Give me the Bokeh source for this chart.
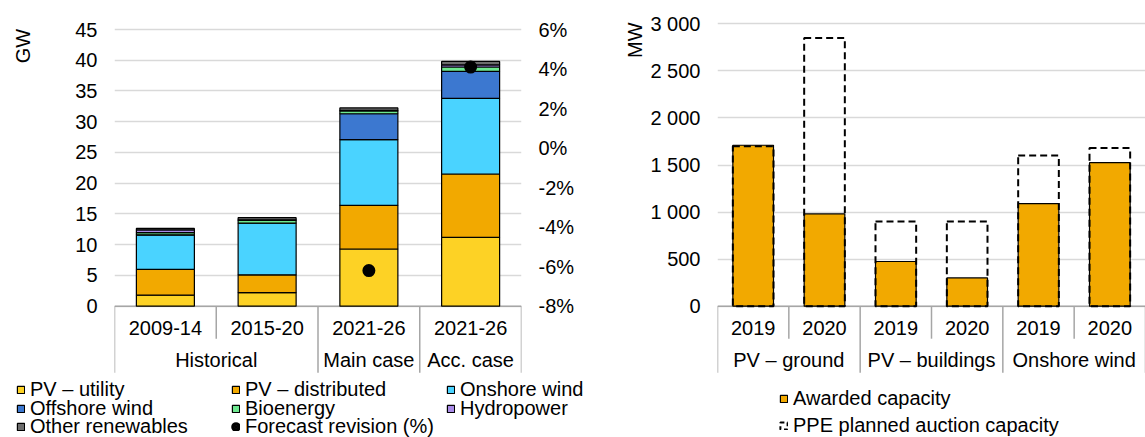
import numpy as np
from bokeh.plotting import figure
from bokeh.models import (FactorRange, Range1d, LinearAxis, FixedTicker, ColumnDataSource,
                          Legend, LegendItem, PrintfTickFormatter)
from bokeh.layouts import row, column
from bokeh.embed import file_html
from bokeh.resources import INLINE
from bokeh.core.properties import value

# ---------------- data: left chart ----------------
periods = ["2009-14", "2015-20", "2021-26", "2021-26"]
period_groups = ["Historical", "Historical", "Main case", "Acc. case"]
pv_utility = [1.8, 2.2, 9.3, 11.2]
pv_distributed = [4.2, 2.9, 7.1, 10.3]
onshore_wind = [5.6, 8.4, 10.7, 12.3]
offshore_wind = [0.0, 0.0, 4.2, 4.4]
bioenergy = [0.35, 0.45, 0.45, 0.7]
hydropower = [0.45, 0.1, 0.1, 0.35]
other_renewables = [0.25, 0.35, 0.4, 0.55]
forecast_revision = [np.nan, np.nan, -6.2, 4.1]
series_names = ["PV – utility", "PV – distributed", "Onshore wind", "Offshore wind",
                "Bioenergy", "Hydropower", "Other renewables"]
revision_name = "Forecast revision (%)"
gw_ticks = [0, 5, 10, 15, 20, 25, 30, 35, 40, 45]
pct_ticks = [-8, -6, -4, -2, 0, 2, 4, 6]
left_unit = "GW"

# ---------------- data: right chart ----------------
years = ["2019", "2020", "2019", "2020", "2019", "2020"]
tech_groups = ["PV – ground", "PV – ground", "PV – buildings", "PV – buildings",
               "Onshore wind", "Onshore wind"]
awarded = [1710, 980, 475, 300, 1090, 1525]
planned = [1700, 2850, 900, 900, 1600, 1680]
mw_ticks = [0, 500, 1000, 1500, 2000, 2500, 3000]
mw_tick_labels = ["0", "500", "1 000", "1 500", "2 000", "2 500", "3 000"]
awarded_name = "Awarded capacity"
planned_name = "PPE planned auction capacity"
right_unit = "MW"

# ---------------- styles / layout (canvas pixels) ----------------
FONT = "Liberation Sans"
FS = "20px"
colors = ["#FDD225", "#F2A900", "#4AD3FF", "#3C78D0", "#6EE890", "#A98BE8", "#6D6D6D"]
AWARD_COLOR = "#F2A900"
GRID = "#d9d9d9"
AXIS = "#a6a6a6"

TOTAL_W, TOTAL_H = 1145, 437
TOP = 14                 # common frame top of the chart row
ZERO_PX = 305.7          # canvas y of the value 0
CHART_H = 375            # chart frames hold the category labels
LEG_H = TOTAL_H - CHART_H
GW_W = 40                # strip holding the "GW" unit label
L_FRAME_L, L_FRAME_R = 114, 521
MID_X = 617              # left / right split
MW_W = 30                # strip holding the "MW" unit label
R_FRAME_L = 717


def cat_axis(p, groups, items, units_per_px):
    n = len(items)
    inner = [i for i in range(1, n) if groups[i] == groups[i - 1]]
    outer = [0] + [i for i in range(1, n) if groups[i] != groups[i - 1]] + [n]
    p.segment(x0=[0], y0=[0], x1=[n], y1=[0], line_color=AXIS, line_width=1.5)
    p.segment(x0=inner, y0=[0] * len(inner), x1=inner,
              y1=[-32.5 * units_per_px] * len(inner), line_color=AXIS, line_width=1.5)
    p.segment(x0=outer, y0=[0] * len(outer), x1=outer,
              y1=[-66.5 * units_per_px] * len(outer), line_color=AXIS, line_width=1.5)
    xs = list(zip(groups, items))
    p.text(x=xs, y=[0] * n, text=items, y_offset=22, text_align="center",
           text_baseline="middle", text_font=value(FONT), text_font_size=value(FS),
           text_color="black")
    ug = list(dict.fromkeys(groups))
    p.text(x=ug, y=[0] * len(ug), text=ug, y_offset=54, text_align="center",
           text_baseline="middle", text_font=value(FONT), text_font_size=value(FS),
           text_color="black")


def style_axis(ax, standoff=17):
    ax.axis_line_color = None
    ax.major_tick_line_color = None
    ax.minor_tick_line_color = None
    ax.major_tick_out = 0
    ax.major_tick_in = 0
    ax.major_label_standoff = standoff
    ax.major_label_text_font = FONT
    ax.major_label_text_font_size = FS
    ax.major_label_text_color = "black"


def blank(width, height, x0, top, bottom, min_top=0):
    # axis-less figure whose data coordinates are canvas pixels
    f = figure(width=width, height=height, x_range=Range1d(x0, x0 + width),
               y_range=Range1d(bottom, top + min_top), output_backend="svg",
               toolbar_location=None, x_axis_location=None, y_axis_location=None,
               min_border=0, min_border_top=min_top, outline_line_color=None)
    f.grid.visible = False
    return f


def unit_strip(width, x0, text, cx, cy):
    s = blank(width, CHART_H, x0, 0, CHART_H, min_top=TOP)
    s.text(x=[cx], y=[cy], text=[text], angle=np.pi / 2, text_align="center",
           text_baseline="middle", text_font=value(FONT), text_font_size=value(FS),
           text_color="black")
    return s


def add_legend(fig, entries, x, y_center, label_width=None):
    items = [LegendItem(label=lab, renderers=[r]) for lab, r in entries]
    kw = dict(items=items, orientation="horizontal", glyph_width=9, glyph_height=9,
              label_standoff=5, spacing=0, padding=0, margin=0, border_line_color=None,
              background_fill_alpha=0, label_text_font=FONT, label_text_font_size=FS,
              label_text_color="black",
              location=(x - fig.x_range.start, TOTAL_H - (y_center + 13)))
    if label_width:
        kw["label_width"] = label_width
    fig.add_layout(Legend(**kw))


# legend swatches: renderers with a single undrawable (NaN) point
NO_POINT = dict(x=[np.nan], top=[np.nan])

# ================= left chart =================
gw_per_px = 45 / (ZERO_PX - 29.0)
pct_per_px = 14 / (ZERO_PX - 29.0)
y_start = -(CHART_H - ZERO_PX) * gw_per_px
y_end = 45 + (29.0 - TOP) * gw_per_px
p_start = -8 - (CHART_H - ZERO_PX) * pct_per_px
p_end = 6 + (29.0 - TOP) * pct_per_px

x_left = list(zip(period_groups, periods))
xr1 = FactorRange(*x_left, factor_padding=0, group_padding=0, subgroup_padding=0, range_padding=0)
p1 = figure(width=MID_X - GW_W, height=CHART_H, x_range=xr1, y_range=Range1d(y_start, y_end),
            output_backend="svg", toolbar_location=None, x_axis_location=None,
            min_border_left=L_FRAME_L - GW_W, min_border_right=MID_X - L_FRAME_R,
            min_border_top=TOP, min_border_bottom=0, outline_line_color=None)
p1.extra_y_ranges = {"pct": Range1d(p_start, p_end)}
style_axis(p1.yaxis[0])
p1.yaxis[0].ticker = FixedTicker(ticks=gw_ticks)
p1.ygrid.ticker = FixedTicker(ticks=gw_ticks)
p1.ygrid.grid_line_color = GRID
p1.ygrid.grid_line_width = 1.3
p1.xgrid.visible = False
ax_r = LinearAxis(y_range_name="pct", ticker=FixedTicker(ticks=pct_ticks),
                  formatter=PrintfTickFormatter(format="%d%%"))
style_axis(ax_r)
p1.add_layout(ax_r, "right")

cat_axis(p1, period_groups, periods, gw_per_px)

keys = ["pvu", "pvd", "on", "off", "bio", "hyd", "oth"]
src1 = ColumnDataSource(dict(x=x_left, pvu=pv_utility, pvd=pv_distributed, on=onshore_wind,
                             off=offshore_wind, bio=bioenergy, hyd=hydropower,
                             oth=other_renewables, rev=forecast_revision))
p1.vbar_stack(keys, x="x", width=0.57, source=src1, fill_color=colors,
              line_color="black", line_width=1.2)
p1.scatter(x="x", y="rev", y_range_name="pct", source=src1, size=7, marker="circle",
           fill_color="black", line_color="black", line_width=6)

gw_strip = unit_strip(GW_W, 0, left_unit, 22.5, 45.5)

l1 = blank(MID_X, LEG_H, 0, CHART_H, TOTAL_H)
sw1 = [l1.vbar(width=1, fill_color=c, line_color="black", line_width=1.2, **NO_POINT)
       for c in colors]
sw1.append(l1.scatter(x=[np.nan], y=[np.nan], size=7, marker="circle", fill_color="black",
                      line_color="black", line_width=6))
entries1 = list(zip(series_names + [revision_name], sw1))
for i, yc in enumerate([387.5, 406.5, 425]):
    add_legend(l1, entries1[3 * i:3 * i + 3], 16, yc, label_width=201)

# ================= right chart =================
mw_per_px = 3000 / (ZERO_PX - 23.3)
m_start = -(CHART_H - ZERO_PX) * mw_per_px
m_end = 3000 + (23.3 - TOP) * mw_per_px

x_right = list(zip(tech_groups, years))
xr2 = FactorRange(*x_right, factor_padding=0, group_padding=0, subgroup_padding=0, range_padding=0)
R_X0 = MID_X + MW_W
p2 = figure(width=TOTAL_W - R_X0, height=CHART_H, x_range=xr2, y_range=Range1d(m_start, m_end),
            output_backend="svg", toolbar_location=None, x_axis_location=None,
            min_border_left=R_FRAME_L - R_X0, min_border_right=0, min_border_top=TOP,
            min_border_bottom=0, outline_line_color=None)
style_axis(p2.yaxis[0])
p2.yaxis[0].ticker = FixedTicker(ticks=mw_ticks)
p2.yaxis[0].major_label_overrides = dict(zip(mw_ticks, mw_tick_labels))
p2.ygrid.ticker = FixedTicker(ticks=mw_ticks)
p2.ygrid.grid_line_color = GRID
p2.ygrid.grid_line_width = 1.3
p2.xgrid.visible = False

cat_axis(p2, tech_groups, years, mw_per_px)

src2 = ColumnDataSource(dict(x=x_right, awarded=awarded, planned=planned))
p2.vbar(x="x", top="awarded", width=0.57, source=src2, fill_color=AWARD_COLOR,
        line_color="black", line_width=1.2)
p2.vbar(x="x", top="planned", width=0.57, source=src2, fill_color=None,
        line_color="black", line_width=2, line_dash="7 4")

mw_strip = unit_strip(MW_W, MID_X, right_unit, 634.5, 39.7)

l2 = blank(TOTAL_W - MID_X, LEG_H, MID_X, CHART_H, TOTAL_H)
sw_aw = l2.vbar(width=1, fill_color=AWARD_COLOR, line_color="black", line_width=1.2, **NO_POINT)
sw_pl = l2.vbar(width=1, fill_color=None, line_color="black", line_width=2, line_dash="4 3",
                **NO_POINT)
add_legend(l2, [(awarded_name, sw_aw)], 779, 397)
add_legend(l2, [(planned_name, sw_pl)], 779, 424)

layout = column(row(gw_strip, p1, mw_strip, p2, spacing=0), row(l1, l2, spacing=0), spacing=0)
open("out.html", "w").write(file_html(layout, INLINE))
